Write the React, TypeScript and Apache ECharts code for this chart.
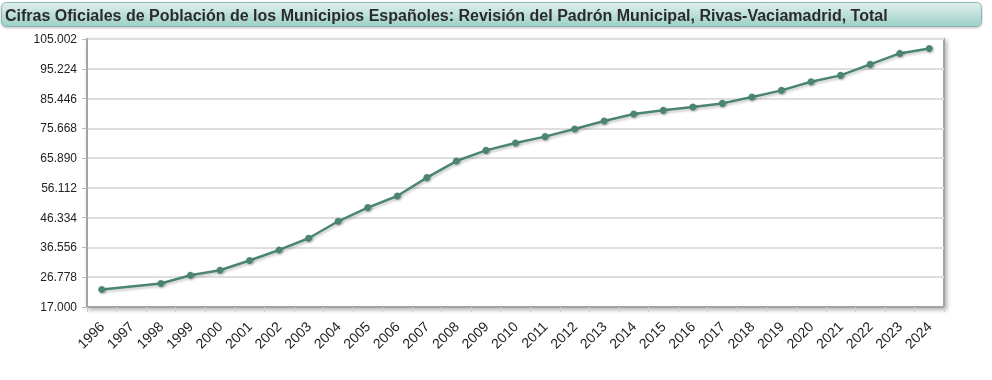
import React, { useEffect, useRef } from "react";
import * as echarts from "echarts";

const TITLE =
  "Cifras Oficiales de Población de los Municipios Españoles: Revisión del Padrón Municipal, Rivas-Vaciamadrid, Total";

const years = [
  "1996", "1997", "1998", "1999", "2000", "2001", "2002", "2003", "2004", "2005",
  "2006", "2007", "2008", "2009", "2010", "2011", "2012", "2013", "2014", "2015",
  "2016", "2017", "2018", "2019", "2020", "2021", "2022", "2023", "2024",
];

const population: (number | null)[] = [
  22740, null, 24710, 27430, 29070, 32260, 35730, 39570, 45150, 49640,
  53450, 59490, 64930, 68440, 70840, 72940, 75430, 78060, 80350, 81570,
  82650, 83860, 85930, 88130, 90980, 93050, 96660, 100270, 101910,
];

const yTicks = [17000, 26778, 36556, 46334, 56112, 65890, 75668, 85446, 95224, 105002];

const fmt = (v: number) => (v / 1000).toFixed(3);

export default function App() {
  const ref = useRef<HTMLDivElement>(null);

  useEffect(() => {
    if (!ref.current) return;
    const chart = echarts.init(ref.current, undefined, { renderer: "svg" });
    chart.setOption({
      animation: false,
      textStyle: { fontFamily: "Liberation Sans, Arial, sans-serif" },
      graphic: [
        {
          type: "rect",
          shape: { x: 1.5, y: 2.5, width: 980, height: 24, r: 5 },
          style: {
            fill: new echarts.graphic.LinearGradient(0, 0, 0, 1, [
              { offset: 0, color: "#e0f0ee" },
              { offset: 1, color: "#9cd0c6" },
            ]),
            stroke: "#8fb5b0",
            lineWidth: 1,
            shadowColor: "rgba(0,0,0,0.25)",
            shadowBlur: 2,
            shadowOffsetY: 1,
          },
        },
        {
          type: "text",
          x: 5,
          y: 15,
          style: {
            text: TITLE,
            font: "bold 16px 'Liberation Sans', Arial, sans-serif",
            fill: "#2b2b2b",
            verticalAlign: "middle",
          },
        },
      ],
      grid: {
        left: 87,
        right: 48,
        top: 39,
        bottom: 73,
        show: true,
        backgroundColor: "#ffffff",
        borderColor: "#a3a3a3",
        borderWidth: 2,
        shadowColor: "rgba(0,0,0,0.3)",
        shadowBlur: 4,
        shadowOffsetX: 2,
        shadowOffsetY: 2,
      },
      xAxis: {
        type: "category",
        data: years,
        boundaryGap: true,
        axisLine: { lineStyle: { color: "#a3a3a3", width: 2 } },
        axisTick: { show: true, length: 5, lineStyle: { color: "#cfcfcf", width: 1 } },
        axisLabel: {
          rotate: 45,
          interval: 0,
          margin: 17,
          fontSize: 14,
          color: "#222",
        },
        splitLine: { show: false },
      },
      yAxis: {
        type: "value",
        min: 17000,
        max: 105002,
        axisLine: { show: true, lineStyle: { color: "#a3a3a3", width: 2 } },
        axisTick: {
          show: true,
          length: 5,
          customValues: yTicks,
          lineStyle: { color: "#bbbbbb" },
        },
        axisLabel: {
          customValues: yTicks,
          formatter: (v: number) => fmt(v),
          fontSize: 12,
          color: "#222",
          margin: 10,
        },
        splitLine: { show: true, lineStyle: { color: "#dedede", width: 2 } },
      },
      series: [
        {
          type: "line",
          data: population,
          connectNulls: true,
          symbol: "circle",
          symbolSize: 7,
          itemStyle: {
            color: "#4b8474",
            shadowColor: "rgba(0,0,0,0.3)",
            shadowBlur: 2,
            shadowOffsetX: 1,
            shadowOffsetY: 1,
          },
          lineStyle: {
            color: "#4b8474",
            width: 2.5,
            shadowColor: "rgba(0,0,0,0.2)",
            shadowBlur: 2,
            shadowOffsetX: 1,
            shadowOffsetY: 2,
          },
        },
      ],
    });
    return () => chart.dispose();
  }, []);

  return (
    <div
      ref={ref}
      style={{ position: "fixed", left: 0, top: 0, width: 992, height: 380 }}
    />
  );
}
